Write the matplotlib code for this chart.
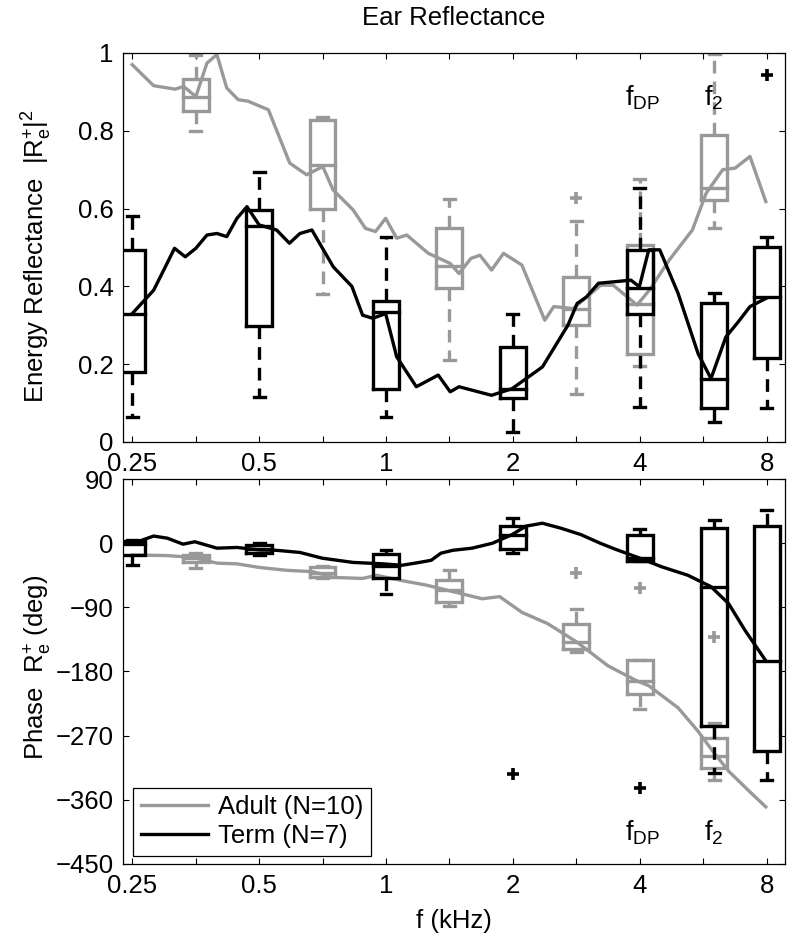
import numpy as np
import matplotlib
matplotlib.use('Agg')
import matplotlib.pyplot as plt
from matplotlib.ticker import NullLocator

plt.rcParams['font.family'] = ['Liberation Sans', 'DejaVu Sans']
plt.rcParams['mathtext.fontset'] = 'custom'
plt.rcParams['mathtext.rm'] = 'Liberation Sans'
plt.rcParams['mathtext.it'] = 'Liberation Sans'
plt.rcParams['mathtext.bf'] = 'Liberation Sans:bold'

GRAY = '#999999'
BLACK = '#000000'

# ---- mean curves -------------------------------------------------------
adult_refl_f = [0.25, 0.281, 0.316, 0.331, 0.354, 0.376, 0.397, 0.419, 0.446, 0.471,
                0.526, 0.591, 0.648, 0.708, 0.749, 0.835, 0.894, 0.944, 0.998, 1.06,
                1.12, 1.26, 1.42, 1.49, 1.59, 1.67, 1.78, 1.90, 2.10, 2.38, 2.50, 2.78,
                3.23, 3.46, 3.94, 4.21, 4.70, 5.33, 5.75, 6.29, 6.73, 7.30, 7.96]
adult_refl = [0.97, 0.916, 0.907, 0.914, 0.888, 0.974, 0.996, 0.91, 0.88, 0.876,
              0.854, 0.717, 0.687, 0.708, 0.648, 0.597, 0.549, 0.541, 0.575, 0.524,
              0.532, 0.485, 0.459, 0.433, 0.472, 0.48, 0.442, 0.485, 0.455, 0.313,
              0.348, 0.343, 0.403, 0.403, 0.352, 0.39, 0.468, 0.545, 0.64, 0.70,
              0.704, 0.734, 0.618]

term_refl_f = [0.25, 0.281, 0.297, 0.315, 0.334, 0.354, 0.376, 0.397, 0.419, 0.443,
               0.468, 0.5, 0.55, 0.59, 0.625, 0.667, 0.75, 0.83, 0.88, 0.93, 0.998,
               1.06, 1.18, 1.33, 1.42, 1.49, 1.78, 1.99, 2.15, 2.35, 2.70, 2.84, 2.99,
               3.19, 3.81, 3.99, 4.20, 4.46, 4.93, 5.50, 5.90, 6.40, 6.85, 7.30, 7.96]
term_refl = [0.33, 0.39, 0.442, 0.498, 0.476, 0.498, 0.532, 0.536, 0.528, 0.575,
             0.605, 0.558, 0.545, 0.511, 0.536, 0.545, 0.45, 0.40, 0.326, 0.318, 0.33,
             0.219, 0.142, 0.172, 0.129, 0.142, 0.12, 0.137, 0.163, 0.193, 0.30, 0.356,
             0.373, 0.408, 0.416, 0.399, 0.494, 0.494, 0.382, 0.227, 0.163, 0.27,
             0.309, 0.348, 0.369]

adult_ph_f = [0.25, 0.303, 0.33, 0.354, 0.397, 0.443, 0.5, 0.58, 0.67, 0.75, 0.88,
              0.95, 1.08, 1.25, 1.42, 1.69, 1.86, 2.1, 2.42, 2.84, 3.36, 3.93, 4.2,
              4.93, 5.5, 5.96, 6.5, 7.3, 7.96]
adult_ph = [-16.5, -17.4, -19, -21, -28, -29, -34, -38, -40, -48, -49.5, -45, -52,
            -59, -67, -78, -75, -97, -113, -139, -172, -193, -200, -231, -264, -292,
            -320, -349, -370]

term_ph_f = [0.25, 0.266, 0.281, 0.303, 0.33, 0.352, 0.397, 0.443, 0.5, 0.55, 0.625,
             0.705, 0.835, 0.985, 1.09, 1.2, 1.28, 1.35, 1.44, 1.6, 1.79, 1.99, 2.15,
             2.35, 2.6, 2.9, 3.22, 3.5, 4.0, 4.5, 5.2, 5.9, 6.5, 7.1, 7.96]
term_ph = [-1, 5, 10, 7, -1.4, 2, -7, -6, -9.4, -10, -13, -21, -27, -29, -31, -27,
           -24, -14, -10, -7, 0, 12, 24, 28, 21, 12, 0, -8.5, -21, -33, -45, -61,
           -85, -122, -165]

# ---- box plot statistics ----------------------------------------------
adult_pos = [0.354, 0.707, 1.414, 2.828, 4.0, 6.0]
term_pos = [0.25, 0.5, 1.0, 2.0, 4.0, 6.0, 8.0]

refl_adult_q1 = [0.85, 0.598, 0.397, 0.30, 0.227, 0.622]
refl_adult_med = [0.888, 0.711, 0.453, 0.343, 0.354, 0.652]
refl_adult_q3 = [0.934, 0.827, 0.551, 0.425, 0.506, 0.79]
refl_adult_lo = [0.80, 0.38, 0.21, 0.124, 0.195, 0.55]
refl_adult_hi = [0.996, 0.835, 0.624, 0.567, 0.676, 0.997]
refl_adult_out = [[], [], [], [0.627], [], []]

refl_term_q1 = [0.18, 0.299, 0.137, 0.112, 0.33, 0.088, 0.217]
refl_term_med = [0.33, 0.554, 0.333, 0.137, 0.397, 0.163, 0.372]
refl_term_q3 = [0.494, 0.597, 0.362, 0.245, 0.494, 0.358, 0.502]
refl_term_lo = [0.063, 0.116, 0.063, 0.026, 0.09, 0.052, 0.088]
refl_term_hi = [0.58, 0.695, 0.526, 0.33, 0.652, 0.382, 0.526]
refl_term_out = [[], [], [], [], [], [], [0.944]]

ph_adult_q1 = [-26, -47, -82.5, -148, -211, -315]
ph_adult_med = [-21, -41.5, -66, -139, -194, -299]
ph_adult_q3 = [-16.5, -34, -51, -113, -163.5, -273]
ph_adult_lo = [-35, -49, -88.6, -153, -233, -332]
ph_adult_hi = [-14, -32, -37.7, -93, -163.5, -252]
ph_adult_out = [[], [], [], [-41.5], [-62.7], [-132]]

ph_term_q1 = [-17, -14, -49.5, -8.5, -24.5, -257, -292]
ph_term_med = [-1, -8, -32, 11.8, -21, -61, -166]
ph_term_q3 = [3.5, -2, -15, 24.5, 11.8, 21, 24.5]
ph_term_lo = [-31, -16, -71.6, -14, -24.5, -323, -332]
ph_term_hi = [4.7, 0, -9.4, 35, 19.8, 33, 46]
ph_term_out = [[], [], [], [-324], [-344], [], []]

xtick_pos = [0.25, 0.354, 0.5, 0.707, 1, 1.414, 2, 2.828, 4, 5.657, 8]
xtick_lab = ['0.25', '', '0.5', '', '1', '', '2', '', '4', '', '8']
refl_ticks = [0, 0.2, 0.4, 0.6, 0.8, 1.0]
refl_tick_lab = ['0', '0.2', '0.4', '0.6', '0.8', '1']
ph_ticks = [90, 0, -90, -180, -270, -360, -450]

LW = 2.4
BOX_HALF = 2 ** 0.102   # half box width, in octaves
CAP_HALF = 2 ** 0.043
DASH = (0, (3.8, 2.4))


def draw_boxes(ax, pos, q1, med, q3, lo, hi, outs, color):
    for i, f in enumerate(pos):
        xl, xr = f / BOX_HALF, f * BOX_HALF
        ax.plot([xl, xr, xr, xl, xl], [q1[i], q1[i], q3[i], q3[i], q1[i]],
                color=color, lw=LW, solid_joinstyle='miter')
        ax.plot([xl, xr], [med[i], med[i]], color=color, lw=LW)
        ax.plot([f, f], [q3[i], hi[i]], color=color, lw=LW, ls=DASH)
        ax.plot([f, f], [q1[i], lo[i]], color=color, lw=LW, ls=DASH)
        for v in (lo[i], hi[i]):
            ax.plot([f / CAP_HALF, f * CAP_HALF], [v, v], color=color, lw=LW)
        if outs[i]:
            ax.plot([f] * len(outs[i]), outs[i], '+', color=color, ms=9, mew=2.6)


fig = plt.figure(figsize=(8, 9.38), dpi=100)
ax1 = fig.add_axes([0.154, 0.5288, 0.827, 0.4147])
ax2 = fig.add_axes([0.154, 0.0790, 0.827, 0.4103])

# top: energy reflectance
draw_boxes(ax1, adult_pos, refl_adult_q1, refl_adult_med, refl_adult_q3,
           refl_adult_lo, refl_adult_hi, refl_adult_out, GRAY)
ax1.plot(adult_refl_f, adult_refl, color=GRAY, lw=LW)
draw_boxes(ax1, term_pos, refl_term_q1, refl_term_med, refl_term_q3,
           refl_term_lo, refl_term_hi, refl_term_out, BLACK)
ax1.plot(term_refl_f, term_refl, color=BLACK, lw=LW)

# bottom: phase
draw_boxes(ax2, adult_pos, ph_adult_q1, ph_adult_med, ph_adult_q3,
           ph_adult_lo, ph_adult_hi, ph_adult_out, GRAY)
ax2.plot(adult_ph_f, adult_ph, color=GRAY, lw=LW, label='Adult (N=10)')
draw_boxes(ax2, term_pos, ph_term_q1, ph_term_med, ph_term_q3,
           ph_term_lo, ph_term_hi, ph_term_out, BLACK)
ax2.plot(term_ph_f, term_ph, color=BLACK, lw=LW, label='Term (N=7)')

for ax in (ax1, ax2):
    ax.set_xscale('log')
    ax.set_xlim(0.238, 8.83)
    ax.xaxis.set_minor_locator(NullLocator())
    ax.set_xticks(xtick_pos)
    ax.set_xticklabels(xtick_lab)
    ax.tick_params(direction='in', length=4.5, width=0.8, top=True, right=True,
                   labelsize=18.5, pad=7)
    for sp in ax.spines.values():
        sp.set_linewidth(0.9)

ax1.set_ylim(0, 1)
ax1.set_yticks(refl_ticks)
ax1.set_yticklabels(refl_tick_lab)
ax1.set_title('Ear Reflectance', fontsize=18.5, pad=20)
ax1.set_ylabel(r'Energy Reflectance  $|\mathrm{R}_\mathrm{e}^{+}|^2$', fontsize=18.5)
ax1.yaxis.set_label_coords(-0.104, 0.478)

ax2.set_ylim(-450, 90)
ax2.set_yticks(ph_ticks)
ax2.set_ylabel(r'Phase  $\mathrm{R}_\mathrm{e}^{+}$ (deg)', fontsize=18.5)
ax2.yaxis.set_label_coords(-0.104, 0.51)
ax2.set_xlabel('f (kHz)', fontsize=18.5, labelpad=8)

ax1.text(4.05, 0.885, r'$\mathrm{f}_{\mathrm{DP}}$', fontsize=19.5, ha='center', va='center')
ax1.text(6.0, 0.885, r'$\mathrm{f}_{2}$', fontsize=19.5, ha='center', va='center')
ax2.text(4.05, -406, r'$\mathrm{f}_{\mathrm{DP}}$', fontsize=19.5, ha='center', va='center')
ax2.text(6.0, -406, r'$\mathrm{f}_{2}$', fontsize=19.5, ha='center', va='center')

leg = ax2.legend(loc='lower left', bbox_to_anchor=(0.015, 0.02), borderaxespad=0,
                 fontsize=18.5, fancybox=False, edgecolor='black', framealpha=1,
                 handlelength=2.6, handletextpad=0.4, labelspacing=0.2,
                 borderpad=0.3)
leg.get_frame().set_linewidth(0.9)

fig.savefig('out.png', dpi=100)
